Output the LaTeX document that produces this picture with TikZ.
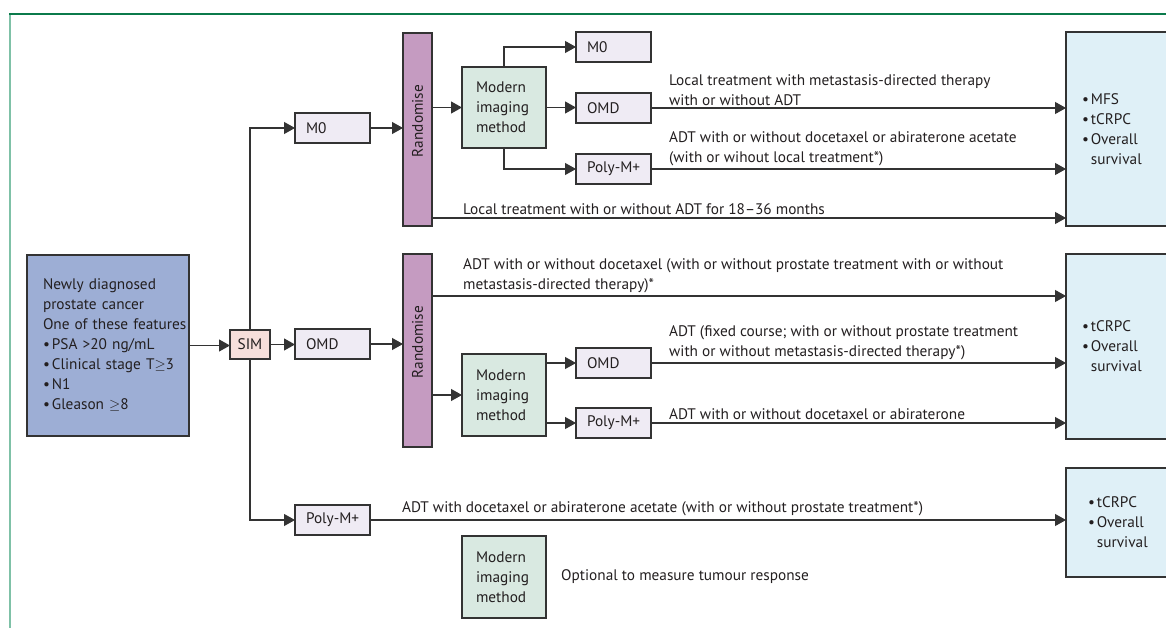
\documentclass[tikz,border=0pt]{standalone}
\usepackage{fontspec}
\setmainfont{PT Sans}
\usetikzlibrary{arrows.meta}

\definecolor{ink}{HTML}{231F20}
\definecolor{boxline}{HTML}{333333}
\definecolor{linec}{HTML}{333333}
\definecolor{leftfill}{HTML}{9DAED5}
\definecolor{simfill}{HTML}{F6DFDB}
\definecolor{tagfill}{HTML}{EFEBF4}
\definecolor{randfill}{HTML}{C59BC1}
\definecolor{mimfill}{HTML}{D9E9E1}
\definecolor{outfill}{HTML}{DFF0F7}
\definecolor{frametop}{HTML}{0B7A4B}
\definecolor{frameleft}{HTML}{7FC1A7}

\newcommand\bul{•\hspace{2pt}}
\newcommand\atleast{\ensuremath{\geq}}

\begin{document}
\begin{tikzpicture}[x=1pt, y=-1pt,
  font=\fontsize{15.3}{20}\selectfont,
  every node/.style={text=ink},
  box/.style={draw=boxline, line width=1.2pt, inner ysep=0pt, outer sep=0pt, anchor=north west},
  tag/.style={box, fill=tagfill, text width=53pt, inner xsep=11pt, minimum height=30pt, align=left},
  mim/.style={box, fill=mimfill, text width=56pt, inner xsep=14pt, minimum height=82pt, align=left},
  randbox/.style={box, fill=randfill, minimum width=29pt, minimum height=193pt},
  outbox/.style={box, fill=outfill, text width=88pt, inner xsep=16pt, align=left},
  lbl/.style={anchor=west, inner sep=0pt, align=left},
  arr/.style={draw=linec, line width=1.1pt, -{Triangle[length=11pt,width=12pt]}}
]
\useasboundingbox (0,0) rectangle (1166,628);
\clip (0,0) rectangle (1166,628);

% frame
\draw[frameleft, line width=1.8pt] (10,14) -- (10,630);
\draw[frametop, line width=1.4pt] (9.1,14) -- (1170,14);

% patient group
\node[box, fill=leftfill, text width=130pt, inner xsep=16pt, minimum height=181pt, align=left]
  (pt) at (27,255)
  {\mbox{Newly diagnosed}\\ \mbox{prostate cancer}\\ \mbox{One of these features}\\
   \mbox{\bul PSA >20 ng/mL}\\ \mbox{\bul Clinical stage T\atleast3}\\ \mbox{\bul N1}\\ \mbox{\bul Gleason \atleast8}};

\node[box, fill=simfill, minimum width=40pt, minimum height=29pt, inner xsep=0pt] (sim) at (230,330) {SIM};

% first-level groups
\node[tag] (m0a) at (295,113) {M0};
\node[tag] (omdb) at (295,329) {OMD};
\node[tag] (polyc) at (295,505) {\mbox{Poly-M+}};

% randomisation bars
\node[randbox] (rand1) at (403,33) {};
\node[randbox] (rand2) at (403,254) {};
\node[rotate=90] (rand1t) at (417.5,121) {Randomise};
\node[rotate=90] (rand2t) at (417.5,342) {Randomise};

% imaging boxes
\node[mim, minimum height=81pt] (mim1) at (462,67) {Modern\\ imaging\\ method};
\node[mim] (mim2) at (462,354) {Modern\\ imaging\\ method};
\node[mim] (mim3) at (462,536) {Modern\\ imaging\\ method};

% second-level groups
\node[tag] (m0top) at (576,32) {M0};
\node[tag] (omda) at (576,93) {OMD};
\node[tag] (polya) at (576,154) {\mbox{Poly-M+}};
\node[tag] (omdc) at (576,348) {OMD};
\node[tag] (polyb) at (576,408) {\mbox{Poly-M+}};

% outcomes
\node[outbox, minimum height=194pt] (out1) at (1066,32)
  {\bul MFS\\ \bul tCRPC\\ \bul Overall\\ \phantom{\bul}survival};
\node[outbox, minimum height=185pt] (out2) at (1066,254)
  {\bul tCRPC\\ \bul Overall\\ \phantom{\bul}survival};
\node[outbox, minimum height=109pt, inner xsep=22pt, text width=76pt] (out3) at (1066,468)
  {\bul tCRPC\\ \bul Overall\\ \phantom{\bul}survival};

% treatment labels
\node[lbl] (t1) at (669,90) {Local treatment with metastasis-directed therapy\\ with or without ADT};
\node[lbl] (t2) at (669,148.5) {ADT with or without docetaxel or abiraterone acetate\\ (with or wihout local treatment*)};
\node[lbl] (t3) at (463,209) {Local treatment with or without ADT for 18–36 months};
\node[lbl] (t4) at (463,275.5) {ADT with or without docetaxel (with or without prostate treatment with or without\\ metastasis-directed therapy)*};
\node[lbl] (t5) at (669,342.5) {ADT (fixed course; with or without prostate treatment\\ with or without metastasis-directed therapy*)};
\node[lbl] (t6) at (669,414) {ADT with or without docetaxel or abiraterone};
\node[lbl] (t7) at (402,509) {ADT with docetaxel or abiraterone acetate (with or without prostate treatment*)};
\node[lbl] (t8) at (561,577) {Optional to measure tumour response};

% connectors: entry
\draw[arr] (pt.east) -- (pt.east -| sim.west);
\draw[arr] (sim.north) |- (m0a.west);
\draw[arr] (sim.south) |- (polyc.west);
\draw[arr] (sim.east) -- (sim.east -| omdb.west);
\draw[arr] (m0a.east) -- (m0a.east -| rand1.west);
\draw[arr] (omdb.east) -- (omdb.east -| rand2.west);

% connectors: M0 randomisation
\coordinate (r1low) at ([yshift=8pt]rand1.south east);
\draw[arr] (mim1.west -| rand1.east) -- (mim1.west);
\draw[arr] (mim1.north) |- (m0top.west);
\draw[arr] (mim1.east) -- (mim1.east -| omda.west);
\draw[arr] (mim1.south) |- (polya.west);
\draw[arr] (omda.east) -- (omda.east -| out1.west);
\draw[arr] (polya.east) -- (polya.east -| out1.west);
\draw[arr] (r1low) -- (r1low -| out1.west);

% connectors: OMD randomisation
\coordinate (r2top) at ([yshift=-42pt]rand2.north east);
\draw[arr] (r2top) -- (r2top -| out2.west);
\draw[arr] (mim2.west -| rand2.east) -- (mim2.west);
\draw[arr] (omdc.west -| mim2.east) -- (omdc.west);
\draw[arr] (polyb.west -| mim2.east) -- (polyb.west);
\draw[arr] (omdc.east) -- (omdc.east -| out2.west);
\draw[arr] (polyb.east) -- (polyb.east -| out2.west);

% connectors: Poly-M+
\draw[arr] (polyc.east) -- (polyc.east -| out3.west);
\end{tikzpicture}
\end{document}
